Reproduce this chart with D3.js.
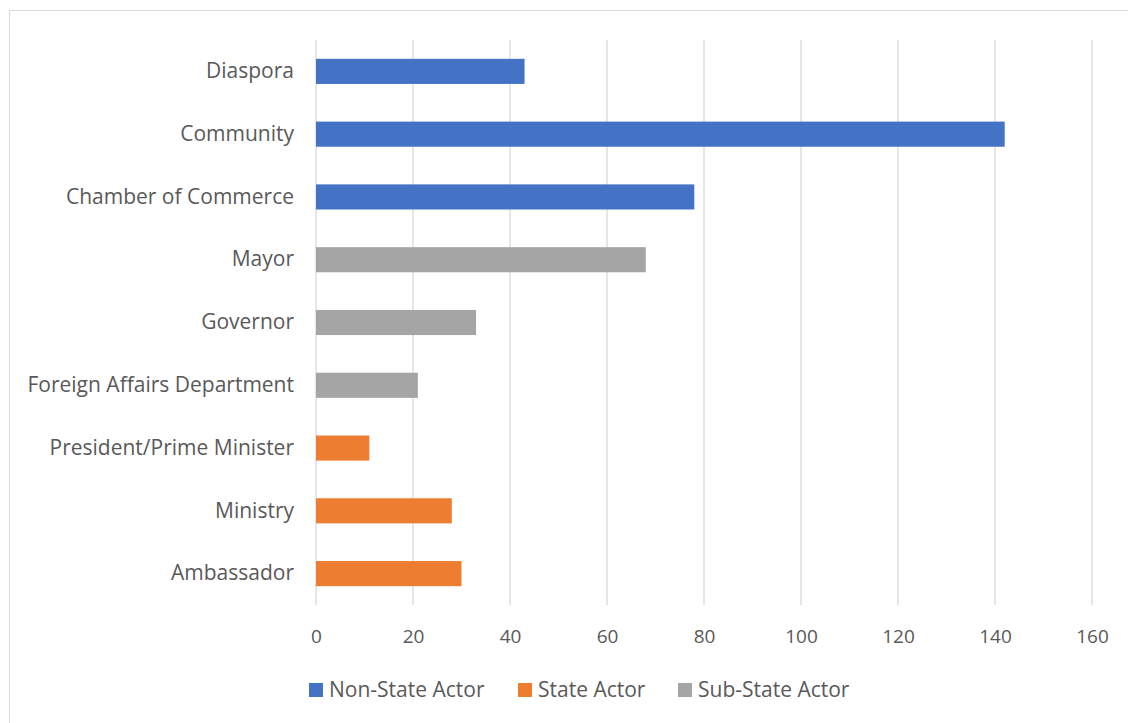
<html>
<head>
<title>Actors chart</title>
<script src="https://cdnjs.cloudflare.com/ajax/libs/d3/7.8.5/d3.min.js"></script>
<style>
  body { margin: 0; background: #fff; }
  text { font-family: "Open Sans", "Liberation Sans", sans-serif; fill: #595959; }
</style>
</head>
<body>
<svg id="chart" width="1128" height="723"></svg>
<script>
// categories top to bottom
var categories = ['Diaspora', 'Community', 'Chamber of Commerce', 'Mayor', 'Governor',
    'Foreign Affairs Department', 'President/Prime Minister', 'Ministry', 'Ambassador'];
var values = [43, 142, 78, 68, 33, 21, 11, 28, 30];
var groups = ['Non-State Actor', 'Non-State Actor', 'Non-State Actor', 'Sub-State Actor', 'Sub-State Actor',
    'Sub-State Actor', 'State Actor', 'State Actor', 'State Actor'];
var series = ['Non-State Actor', 'State Actor', 'Sub-State Actor'];
var colors = ['#4472C4', '#ED7D31', '#A5A5A5'];
var ticks = [0, 20, 40, 60, 80, 100, 120, 140, 160];

var svg = d3.select('#chart');

// outer frame
svg.append('rect')
    .attr('x', 9.5).attr('y', 10.5)
    .attr('width', 1130).attr('height', 730)
    .attr('fill', 'none').attr('stroke', '#D9D9D9');

var x = d3.scaleLinear().domain([0, 160]).range([316, 1092]);
var y = d3.scaleBand().domain(categories).range([40, 605]).paddingInner(0.6).paddingOuter(0.3);
var color = d3.scaleOrdinal().domain(series).range(colors);

// gridlines
svg.append('g').selectAll('line')
    .data(ticks)
    .enter()
    .append('line')
    .attr('x1', function (d) { return x(d); })
    .attr('x2', function (d) { return x(d); })
    .attr('y1', 40).attr('y2', 605)
    .attr('stroke', '#D9D9D9').attr('stroke-width', 1.3);

// x axis labels
var xAxis = d3.axisBottom(x).tickValues(ticks).tickSize(0).tickPadding(0);
var gx = svg.append('g').attr('transform', 'translate(0 630)').call(xAxis);
gx.select('.domain').remove();
gx.selectAll('text').style('font-size', '19px').attr('dy', '0.7em')
    .style('font-family', '"Open Sans", sans-serif').attr('fill', '#595959');

// y axis labels
var yAxis = d3.axisLeft(y).tickSize(0).tickPadding(22);
var gy = svg.append('g').attr('transform', 'translate(316 0)').call(yAxis);
gy.select('.domain').remove();
gy.selectAll('text').style('font-size', '21px')
    .style('font-family', '"Open Sans", sans-serif').attr('fill', '#595959');

// bars
svg.append('g').selectAll('rect')
    .data(categories)
    .enter()
    .append('rect')
    .attr('x', x(0))
    .attr('y', function (d) { return y(d); })
    .attr('height', y.bandwidth())
    .attr('width', function (d, i) { return x(values[i]) - x(0); })
    .attr('fill', function (d, i) { return color(groups[i]); });

// legend
var legendX = [309, 518, 678];
var leg = svg.append('g').selectAll('g')
    .data(series)
    .enter()
    .append('g')
    .attr('transform', function (d, i) { return 'translate(' + legendX[i] + ' 683)'; });
leg.append('rect').attr('width', 14).attr('height', 14)
    .attr('fill', function (d) { return color(d); });
leg.append('text').attr('x', 20).attr('y', 7).attr('dy', '0.35em')
    .style('font-size', '21px').text(function (d) { return d; });
</script>
</body>
</html>
